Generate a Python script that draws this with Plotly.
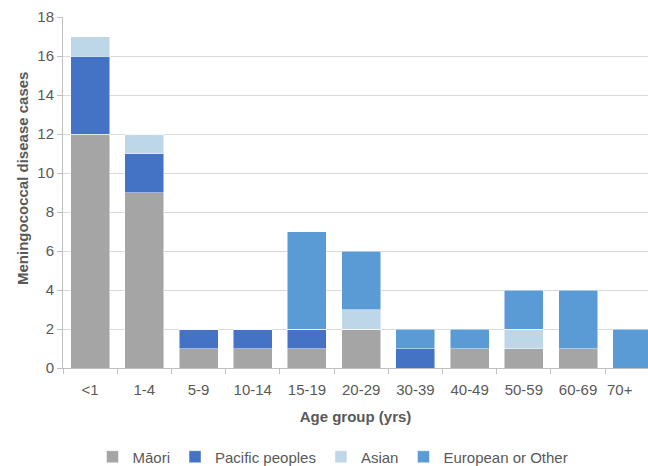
import plotly.graph_objects as go

categories = ["<1", "1-4", "5-9", "10-14", "15-19", "20-29", "30-39", "40-49", "50-59", "60-69", "70+"]
maori = [12, 9, 1, 1, 1, 2, 0, 1, 1, 1, 0]
pacific = [4, 2, 1, 1, 1, 0, 1, 0, 0, 0, 0]
asian = [1, 1, 0, 0, 0, 1, 0, 0, 1, 0, 0]
european = [0, 0, 0, 0, 5, 3, 1, 1, 2, 3, 2]

series = [
    ("Māori", maori, "#a5a5a5"),
    ("Pacific peoples", pacific, "#4472c4"),
    ("Asian", asian, "#bdd7e8"),
    ("European or Other", european, "#5b9bd5"),
]

fig = go.Figure()
for name, vals, color in series:
    fig.add_trace(go.Bar(
        x=categories, y=vals, name=name,
        marker=dict(color=color, line=dict(color="rgba(255,255,255,0.6)", width=0.8)),
    ))

W, H = 648, 466
L, T, B = 63, 17, 98
plot_w, plot_h = W - L, H - T - B

font_family = "Liberation Sans, Arial, sans-serif"
txt = "#595959"

# all tick labels except the last, which sits nudged left inside the page (as in the original)
tick_text = categories[:-1] + [""]

fig.update_layout(
    barmode="stack",
    bargap=0.28,
    width=W, height=H,
    margin=dict(l=L, r=0, t=T, b=B, autoexpand=False),
    plot_bgcolor="white", paper_bgcolor="white",
    font=dict(family=font_family, size=15, color=txt),
    showlegend=True,
    legend=dict(
        orientation="h", x=(333 - L) / plot_w, xanchor="center",
        y=(368 - 457) / plot_h, yanchor="middle",
        font=dict(size=15, color=txt), traceorder="normal",
        itemwidth=30, tracegroupgap=0,
    ),
    xaxis=dict(
        type="category", range=[-0.5, 10.29], automargin=False,
        tickmode="array", tickvals=categories, ticktext=tick_text, tickangle=0,
        showline=True, linecolor="#bfbfbf", linewidth=1,
        ticks="outside", tickson="boundaries", tickcolor="#bfbfbf", ticklen=5,
        ticklabelstandoff=8,
        title=dict(text="<b>Age group (yrs)</b>", font=dict(size=15, color=txt), standoff=14),
        tickfont=dict(size=15, color=txt),
    ),
    yaxis=dict(
        range=[0, 18], dtick=2, automargin=False,
        showgrid=True, gridcolor="#d9d9d9", gridwidth=1,
        showline=True, linecolor="#bfbfbf", linewidth=1,
        ticks="outside", tickcolor="#bfbfbf", ticklen=5,
        zeroline=False,
        tickfont=dict(size=15, color=txt),
    ),
    annotations=[
        dict(text=categories[-1], x=categories[-1], xref="x", xshift=-12,
             y=(368 - 389) / plot_h, yref="paper", yanchor="middle", xanchor="center",
             showarrow=False, font=dict(size=15, color=txt)),
        dict(text="<b>Meningococcal disease cases</b>", textangle=-90,
             x=(22 - L) / plot_w, xref="paper", xanchor="center",
             y=(368 - 179) / plot_h, yref="paper", yanchor="middle",
             showarrow=False, font=dict(size=15, color=txt)),
    ],
)

fig.write_html(
    "out.html",
    config={"displayModeBar": False},
    post_script="document.body.style.margin='0';document.documentElement.style.overflow='hidden';document.body.style.overflow='hidden';",
)
